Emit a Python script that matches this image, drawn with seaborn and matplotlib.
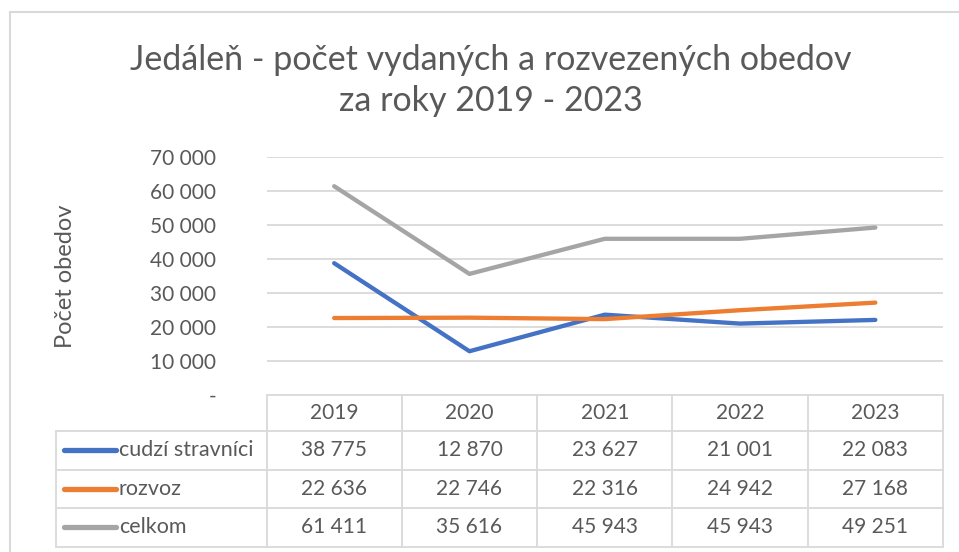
import matplotlib
matplotlib.use("Agg")
import matplotlib.pyplot as plt
import matplotlib.transforms as mtransforms
from matplotlib.lines import Line2D
from matplotlib.patches import Rectangle
import pandas as pd
import seaborn as sns

sns.set_theme(style="white")
plt.rcParams["font.family"] = ["Lato", "DejaVu Sans"]

YEARS   = ["2019", "2020", "2021", "2022", "2023"]
SERIES  = ["cudzí stravníci", "rozvoz", "celkom"]
CUDZI   = [38775, 12870, 23627, 21001, 22083]
ROZVOZ  = [22636, 22746, 22316, 24942, 27168]
CELKOM  = [61411, 35616, 45943, 45943, 49251]
Y_TICKS = [0, 10000, 20000, 30000, 40000, 50000, 60000, 70000]

COLORS = {"cudzí stravníci": "#4472C4", "rozvoz": "#ED7D31", "celkom": "#A5A5A5"}
TXT    = "#595959"
GRID   = "#D9D9D9"

W, H = 959, 552


def fx(x):
    return x / W


def fy(y):
    return 1 - y / H


def fmt(v):
    if v == 0:
        return "-"
    return f"{v:,}".replace(",", " ")


rows = []
for name, vals in zip(SERIES, [CUDZI, ROZVOZ, CELKOM]):
    for yr, v in zip(YEARS, vals):
        rows.append({"rok": yr, "obedy": v, "séria": name})
df = pd.DataFrame(rows)

fig = plt.figure(figsize=(W / 100, H / 100), dpi=100)
ax = fig.add_axes([fx(266.5), fy(395), fx(943) - fx(266.5), fy(157) - fy(395)])

# chart border
fig.add_artist(Rectangle((fx(10), fy(700)), fx(1100), fy(12) - fy(700),
                         transform=fig.transFigure, fill=False, edgecolor=GRID, lw=1.5))

for v in Y_TICKS[1:]:
    ax.axhline(v, color=GRID, lw=1.3, zorder=0)

sns.lineplot(data=df, x="rok", y="obedy", hue="séria", hue_order=SERIES,
             palette=COLORS, lw=3.1, sort=False, legend=False, ax=ax)

ax.set_xlim(-0.5, 4.5)
ax.set_ylim(0, 70000)
ax.set_yticks(Y_TICKS)
ax.set_yticklabels([fmt(v) for v in Y_TICKS], color=TXT, fontsize=15)
ax.tick_params(axis="y", length=0, pad=36)
ax.set_xticks([])
ax.set_xlabel("")
ax.set_ylabel("")
for s in ax.spines.values():
    s.set_visible(False)

fig.text(fx(65), fy(276), "Počet obedov", rotation=90, ha="center", va="center",
         color=TXT, fontsize=17)

fig.text(fx(491), fy(60), "Jedáleň - počet vydaných a rozvezených obedov",
         ha="center", va="center", color=TXT, fontsize=24.5)
fig.text(fx(491), fy(101), "za roky 2019 - 2023",
         ha="center", va="center", color=TXT, fontsize=24.5)

# data table under the plot, columns tied to the x scale
tr = mtransforms.blended_transform_factory(ax.transData, fig.transFigure)
row_edges = [395, 431, 469.5, 508, 546.5]
row_mid = [413, 450, 489, 527]
lw_t = 1.3

fig.add_artist(Line2D([-0.5, 4.5], [fy(395)] * 2, transform=tr, color=GRID, lw=lw_t))
for y in row_edges[1:]:
    fig.add_artist(Line2D([fx(56), fx(943)], [fy(y)] * 2, transform=fig.transFigure,
                          color=GRID, lw=lw_t))
fig.add_artist(Line2D([fx(56), fx(56)], [fy(431), fy(546.5)], transform=fig.transFigure,
                      color=GRID, lw=lw_t))
for i in range(len(YEARS) + 1):
    fig.add_artist(Line2D([i - 0.5] * 2, [fy(395), fy(546.5)], transform=tr,
                          color=GRID, lw=lw_t))

for i, yr in enumerate(YEARS):
    fig.text(i, fy(row_mid[0]), yr, transform=tr, ha="center", va="center",
             color=TXT, fontsize=15)

for r, (name, vals) in enumerate(zip(SERIES, [CUDZI, ROZVOZ, CELKOM])):
    y = fy(row_mid[r + 1])
    fig.add_artist(Line2D([fx(64), fx(116)], [y, y], transform=fig.transFigure,
                          color=COLORS[name], lw=3.8, solid_capstyle="round"))
    fig.text(fx(119), y, name, ha="left", va="center", color=TXT, fontsize=15.5)
    for i, v in enumerate(vals):
        fig.text(i, y, fmt(v), transform=tr, ha="center", va="center",
                 color=TXT, fontsize=15)

fig.savefig("out.png", dpi=100)
